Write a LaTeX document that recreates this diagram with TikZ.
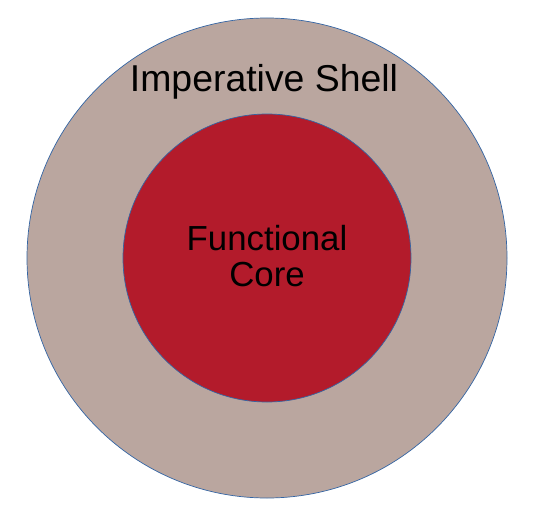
\documentclass[tikz,border=0pt]{standalone}
\usepackage{fontspec}
\setmainfont{Liberation Sans}
\definecolor{shellfill}{HTML}{BAA69F}
\definecolor{corefill}{HTML}{B31B2B}
\definecolor{rim}{HTML}{3465A4}
\begin{document}
\begin{tikzpicture}[x=1pt,y=-1pt,
  ring/.style={circle,draw=rim,line width=0.7pt,inner sep=0pt},
  lbl/.style={text=black,align=center,anchor=base}]
\useasboundingbox (0,0) rectangle (533,511);
\node[ring,fill=shellfill,minimum size=480pt] (shell) at (267,258) {};
\node[ring,fill=corefill,minimum size=288pt] (core) at (267,258) {};
\node[lbl,font=\fontsize{37.4}{40}\selectfont] (shelltxt) at (264,92) {Imperative Shell};
\node[lbl,font=\fontsize{34.8}{36}\selectfont] (coretxt1) at (267,250) {Functional};
\node[lbl,font=\fontsize{34.8}{36}\selectfont] (coretxt2) at (267,286) {Core};
\end{tikzpicture}
\end{document}
